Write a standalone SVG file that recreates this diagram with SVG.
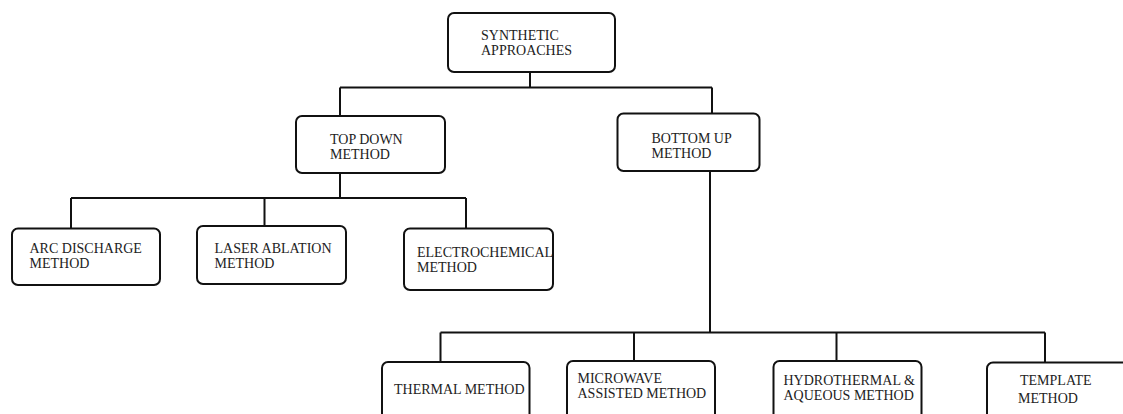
<svg xmlns="http://www.w3.org/2000/svg" width="1123" height="414" viewBox="0 0 1123 414">
  <defs>
    <style>
      .box { fill: #ffffff; stroke: #111111; stroke-width: 2; }
      .lbl { font-family: "Liberation Serif", "Times New Roman", serif; font-size: 14px; fill: #222222; }
      .conn { fill: none; stroke: #111111; stroke-width: 2; }
    </style>
    <clipPath id="clipElec">
      <rect x="404" y="229" width="148" height="60"/>
    </clipPath>
  </defs>
  <rect width="1123" height="414" fill="#ffffff"/>

  <g id="connectors">
    <path class="conn" d="M530 72 V87.5 M340 87.5 H712 M340 87.5 V116 M712 87.5 V113.5"/>
    <path class="conn" d="M340 173 V198 M71 198 H466 M71 198 V228.5 M264.5 198 V226 M466 198 V228.5"/>
    <path class="conn" d="M710 171 V332.5 M440.5 332.5 H1045 M440.5 332.5 V362 M634 332.5 V361 M836.5 332.5 V361 M1045 332.5 V362.5"/>
  </g>

  <g id="node-synthetic">
    <rect class="box" x="448" y="13" width="167" height="59" rx="6"/>
    <text class="lbl" x="481" y="39.5">SYNTHETIC</text>
    <text class="lbl" x="481" y="54.5">APPROACHES</text>
  </g>

  <g id="node-topdown">
    <rect class="box" x="296" y="116" width="149" height="57" rx="6"/>
    <text class="lbl" x="330" y="144">TOP DOWN</text>
    <text class="lbl" x="330" y="159">METHOD</text>
  </g>

  <g id="node-bottomup">
    <rect class="box" x="617.5" y="113.5" width="142" height="57.5" rx="6"/>
    <text class="lbl" x="651.5" y="143">BOTTOM UP</text>
    <text class="lbl" x="651.5" y="158">METHOD</text>
  </g>

  <g id="node-arc">
    <rect class="box" x="12" y="228.5" width="148" height="56.5" rx="6"/>
    <text class="lbl" x="29.5" y="252.5">ARC DISCHARGE</text>
    <text class="lbl" x="29.5" y="267.5">METHOD</text>
  </g>

  <g id="node-laser">
    <rect class="box" x="197" y="226" width="149" height="58" rx="6"/>
    <text class="lbl" x="214.5" y="252.5">LASER ABLATION</text>
    <text class="lbl" x="214.5" y="267.5">METHOD</text>
  </g>

  <g id="node-electro">
    <rect class="box" x="404" y="228.5" width="149" height="61.5" rx="6"/>
    <g clip-path="url(#clipElec)">
      <text class="lbl" x="417" y="256.5">ELECTROCHEMICAL</text>
      <text class="lbl" x="417" y="271.5">METHOD</text>
    </g>
  </g>

  <g id="node-thermal">
    <rect class="box" x="382" y="362" width="147.5" height="70" rx="6"/>
    <text class="lbl" x="394" y="393.5">THERMAL METHOD</text>
  </g>

  <g id="node-microwave">
    <rect class="box" x="567" y="361" width="148" height="70" rx="6"/>
    <text class="lbl" x="577.5" y="383">MICROWAVE</text>
    <text class="lbl" x="577.5" y="398">ASSISTED METHOD</text>
  </g>

  <g id="node-hydrothermal">
    <rect class="box" x="773.5" y="361" width="148" height="70" rx="6"/>
    <text class="lbl" x="783.5" y="384.5">HYDROTHERMAL &amp;</text>
    <text class="lbl" x="783.5" y="399.5">AQUEOUS METHOD</text>
  </g>

  <g id="node-template">
    <rect class="box" x="987" y="362.5" width="160" height="70" rx="6"/>
    <text class="lbl" x="1020" y="385">TEMPLATE</text>
    <text class="lbl" x="1018" y="403">METHOD</text>
  </g>
</svg>
